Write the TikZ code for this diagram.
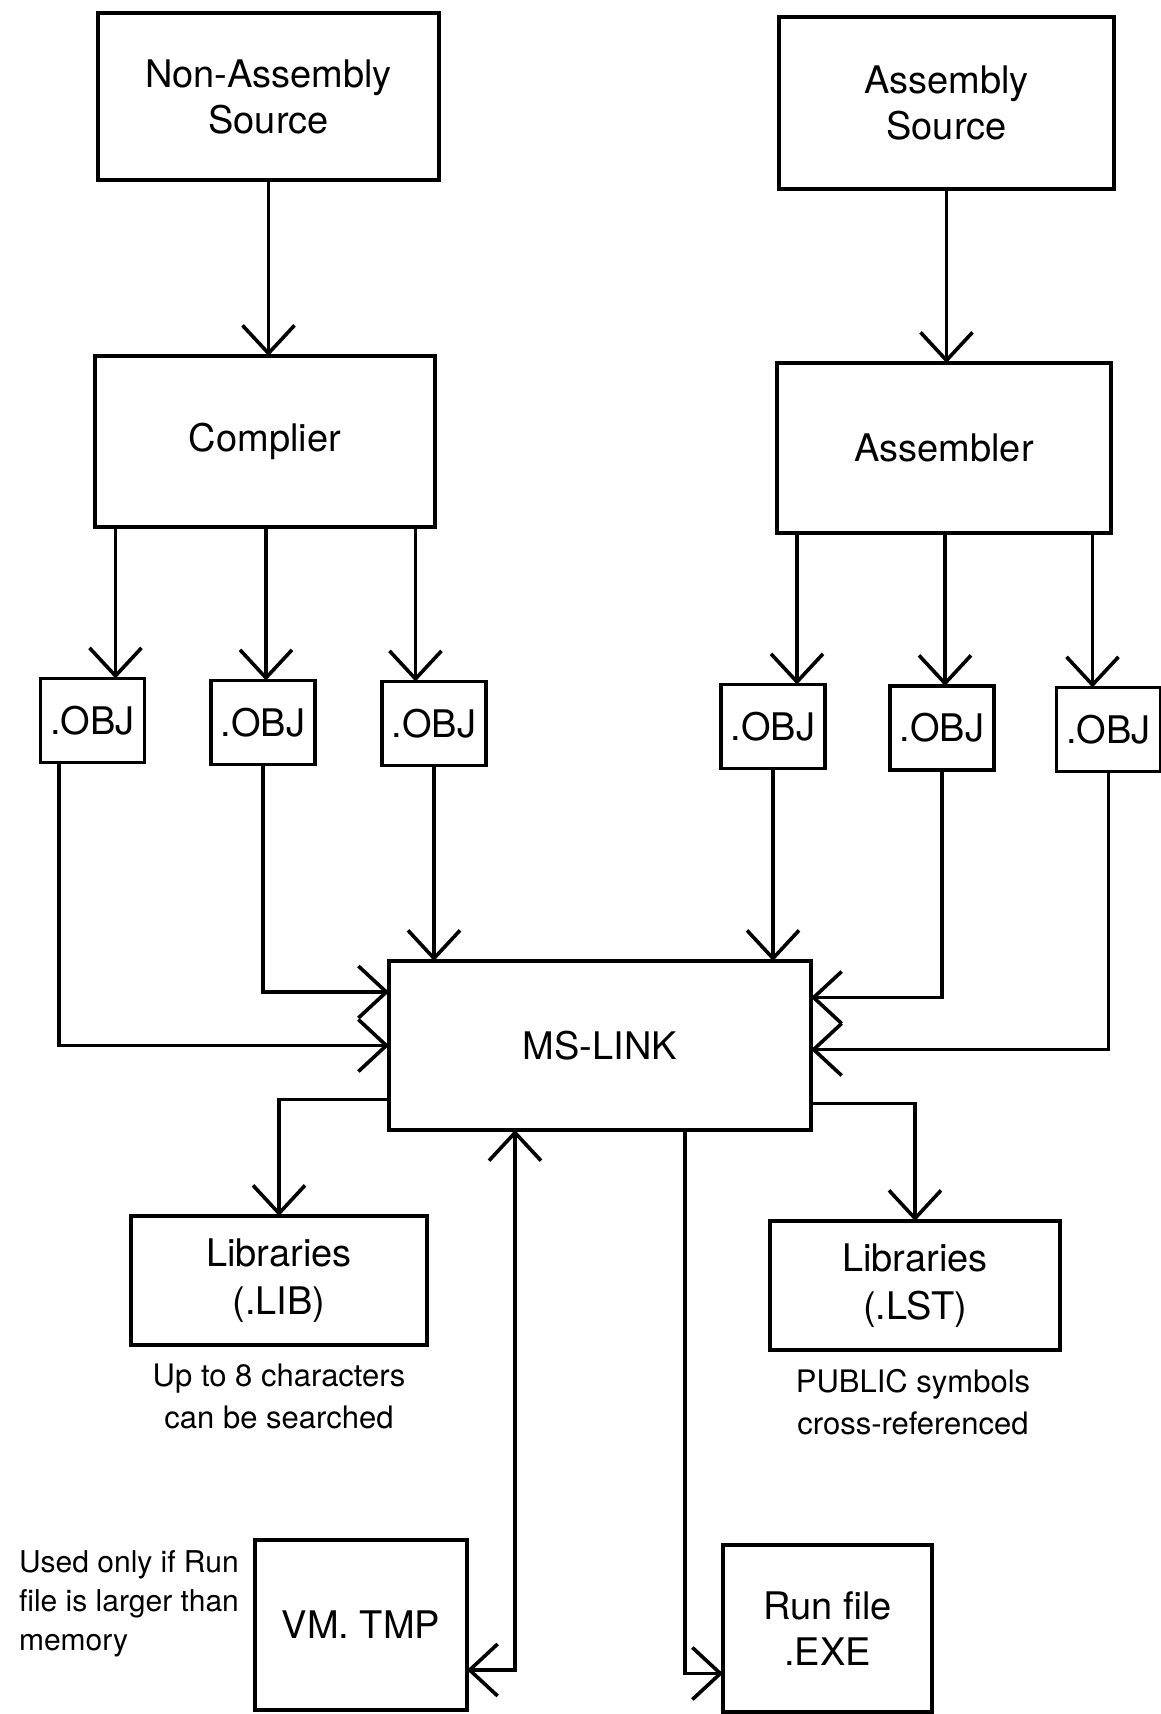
\documentclass[tikz,border=0pt]{standalone}
\usepackage{fontspec}
\setmainfont{TeX Gyre Heros}
\usepackage{tikz}
\usetikzlibrary{arrows.meta}

\tikzset{
  box/.style={draw,line width=1.8pt,inner sep=0pt,outer sep=0pt,align=center,
    font=\fontsize{19}{23}\selectfont},
  objbox/.style={box,minimum width=52pt,minimum height=42pt},
  note/.style={align=center,font=\fontsize{15.5}{21}\selectfont},
  flow/.style={line width=1.8pt,-{Straight Barb[length=14pt,width=26pt]}},
  flowboth/.style={line width=1.8pt,{Straight Barb[length=14pt,width=26pt]}-{Straight Barb[length=14pt,width=26pt]}}
}

\begin{document}
\begin{tikzpicture}[x=0.5pt,y=-0.5pt]
\useasboundingbox (0,0) rectangle (1161,1714);
% sources and translators
\node[box,minimum width=170.5pt,minimum height=83.5pt] (nonasm) at (268.5,96.5) {Non-Assembly\\Source};
\node[box,minimum width=167.5pt,minimum height=86pt] (asmsrc) at (946.5,103) {Assembly\\Source};
\node[box,minimum width=170pt,minimum height=85.5pt] (compiler) at (265,441.5) {Complier};
\node[box,minimum width=167pt,minimum height=85pt] (assembler) at (944,448) {Assembler};
\draw[flow] (nonasm.south) -- (nonasm.south |- compiler.north);
\draw[flow] (asmsrc.south) -- (asmsrc.south |- assembler.north);
% object files
\node[objbox] (obj1) at (92.5,720.5) {.OBJ};
\node[objbox] (obj2) at (263,722.5) {.OBJ};
\node[objbox] (obj3) at (434,723.5) {.OBJ};
\node[objbox] (obj4) at (773,726.5) {.OBJ};
\node[objbox] (obj5) at (942,728) {.OBJ};
\node[objbox] (obj6) at (1108.5,729.5) {.OBJ};
\coordinate (in1) at ([xshift=11.5pt]obj1.north);
\coordinate (in2) at ([xshift=1.5pt]obj2.north);
\coordinate (in3) at ([xshift=-9.25pt]obj3.north);
\coordinate (in4) at ([xshift=12pt]obj4.north);
\coordinate (in5) at ([xshift=1.5pt]obj5.north);
\coordinate (in6) at ([xshift=-8pt]obj6.north);
\foreach \i in {1,2,3} {
  \draw[flow] (in\i |- compiler.south) -- (in\i);
}
\foreach \i in {4,5,6} {
  \draw[flow] (in\i |- assembler.south) -- (in\i);
}
% linker
\node[box,minimum width=211pt,minimum height=84.5pt] (mslink) at (600,1045.5) {MS-LINK};
\draw[flow] ([xshift=-16.75pt]obj1.south) |- (mslink.west);
\draw[flow] (obj2.south) |- ([yshift=26.75pt]mslink.west);
\draw[flow] (obj3.south) -- (obj3.south |- mslink.north);
\draw[flow] (obj4.south) -- (obj4.south |- mslink.north);
\draw[flow] (obj5.south) |- ([yshift=24pt]mslink.east);
\draw[flow] (obj6.south) |- ([yshift=-2pt]mslink.east);
% outputs
\node[box,minimum width=148pt,minimum height=64.5pt,
  font=\fontsize{19}{24}\selectfont] (lib) at (279,1280.5) {Libraries\\(.LIB)};
\node[box,minimum width=145pt,minimum height=64.5pt,
  font=\fontsize{19}{24}\selectfont] (lst) at (915,1285.5) {Libraries\\(.LST)};
\node[note] (libnote) at (279,1396) {Up to 8 characters\\can be searched};
\node[note] (lstnote) at (913,1402) {PUBLIC symbols\\cross-referenced};
\draw[flow] ([yshift=-27pt]mslink.west) -| (lib.north);
\draw[flow] ([yshift=-29pt]mslink.east) -| (lst.north);
\node[box,minimum width=106pt,minimum height=85pt] (vmtmp) at (361,1625) {VM. TMP};
\node[box,minimum width=104.5pt,minimum height=83.5pt] (runfile) at (827.5,1628.5) {Run file\\.EXE};
\node[note,align=left,anchor=west,font=\fontsize{15}{19.5}\selectfont] (vmnote) at (12,1604)
  {Used only if Run\\file is larger than\\memory};
\draw[flowboth] ([xshift=-42.5pt]mslink.south) |- ([yshift=-22.5pt]vmtmp.east);
\draw[flow] ([xshift=42.5pt]mslink.south) |- ([yshift=-22.5pt]runfile.west);
\end{tikzpicture}
\end{document}
